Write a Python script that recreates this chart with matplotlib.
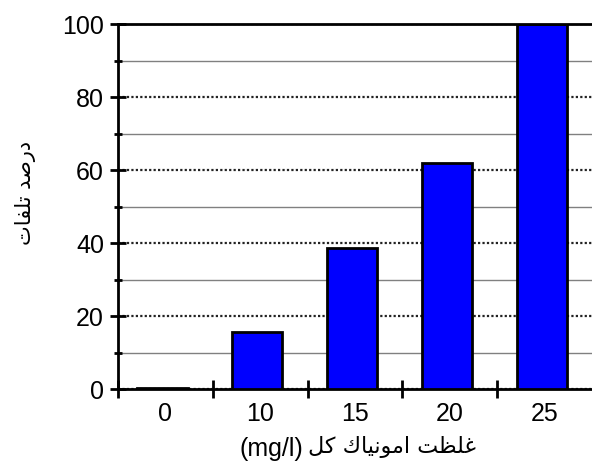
import matplotlib
matplotlib.use("Agg")
import matplotlib.pyplot as plt
from matplotlib.ticker import MultipleLocator, FixedLocator

categories = ["0", "10", "15", "20", "25"]
values = [0.5, 15.8, 38.8, 61.9, 100.0]
y_ticks = [0, 20, 40, 60, 80, 100]

# Pre-shaped (presentation forms, visual order) Persian labels
ylabel_txt = "\uFE95\uFE8E\uFED4\uFEE0\uFE97 \uFEAA\uFEBB\uFEAD\uFEA9"  # درصد تلفات
xlabel_unit = "(mg/l)"
xlabel_fa = "\uFEDE\uFEDB" + " " + \
    "\uFED9\uFE8E\uFEF4\uFEE7\uFEEE\uFEE3\uFE8D" + " " + "\uFE96\uFEC8\uFEE0\uFECF"  # غلظت امونياك كل

fam = ["Liberation Sans", "DejaVu Sans"]
plt.rcParams["font.family"] = fam

fig = plt.figure(figsize=(5.92, 4.63), dpi=100)
ax = fig.add_axes([0.1993, 0.159, 0.8007, 0.789])

x = list(range(len(categories)))
ax.bar([i - 0.03 for i in x], values, width=0.53, color="#0000FF", edgecolor="black",
       linewidth=2, zorder=3)

ax.set_xlim(-0.5, len(categories) - 0.5)
ax.set_ylim(0, 100)

ax.yaxis.set_major_locator(FixedLocator(y_ticks))
ax.yaxis.set_minor_locator(MultipleLocator(10))
ax.grid(which="major", axis="y", color="#222222", linestyle=(0, (1, 1)), linewidth=1.6, zorder=1)
ax.grid(which="minor", axis="y", color="#808080", linestyle="-", linewidth=1.0, zorder=1)

ax.set_xticks(x)
ax.set_xticklabels(categories)
ax.xaxis.set_minor_locator(FixedLocator([i - 0.5 for i in range(len(categories))]))
ax.tick_params(axis="x", which="major", length=0, labelsize=18, pad=9)
ax.tick_params(axis="x", which="minor", direction="inout", length=13, width=2)
ax.tick_params(axis="y", which="major", direction="inout", length=12, width=2, labelsize=18, pad=4)
ax.tick_params(axis="y", which="minor", direction="inout", length=6, width=2)

for s in ["left", "bottom", "top"]:
    ax.spines[s].set_linewidth(2)
    ax.spines[s].set_color("black")
ax.spines["right"].set_visible(False)
ax.spines["top"].set_zorder(4)

fig.text(303 / 592, 1 - 449 / 463, xlabel_unit, ha="right", va="center", fontsize=18, family=fam)
fig.text(308 / 592, 1 - 447 / 463, xlabel_fa, ha="left", va="center", fontsize=16, family=["DejaVu Sans"])
fig.text(25 / 592, 1 - 193 / 463, ylabel_txt, ha="center", va="center", rotation=90,
         fontsize=15, family=["DejaVu Sans"])

fig.savefig("out.png", dpi=100)
